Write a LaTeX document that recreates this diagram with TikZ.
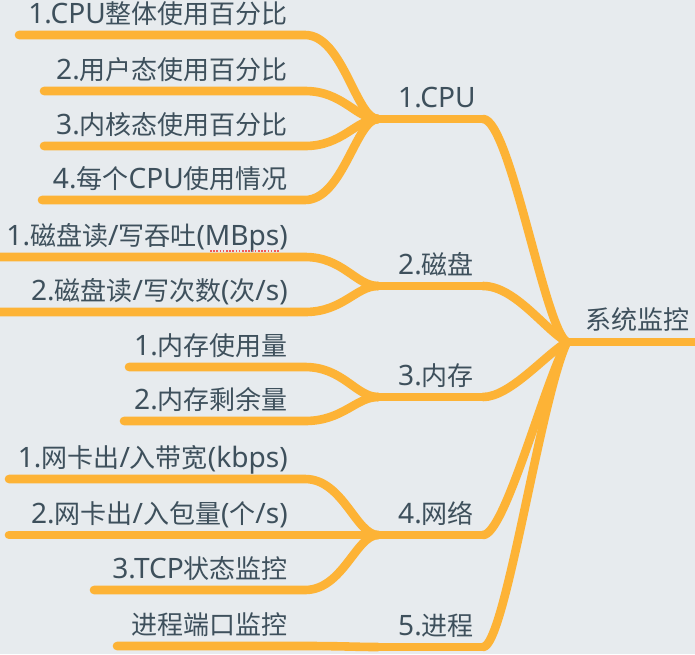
\documentclass[tikz,border=0pt]{standalone}
\usepackage{fontspec}
\setmainfont{Noto Sans CJK SC}
\newfontfamily\latinfont[Scale=1.08]{Noto Sans}
\newcommand{\Lt}[1]{{\latinfont #1}}
\definecolor{bgc}{HTML}{E7EBEE}
\definecolor{lnc}{HTML}{FDB336}
\definecolor{txc}{HTML}{3E505C}
\definecolor{spc}{HTML}{F05A5A}
\tikzset{
  branchline/.style={draw=lnc, line width=8.6pt, line cap=round, line join=round},
  leaftext/.style={anchor=base east, inner sep=0pt, text=txc, font=\fontsize{26}{30}\selectfont},
  midtext/.style={anchor=base west, inner sep=0pt, text=txc, font=\fontsize{26}{30}\selectfont},
}
\begin{document}
\begin{tikzpicture}[x=1pt, y=-1pt]
\fill[bgc] (0,0) rectangle (695,654);
\useasboundingbox (0,0) rectangle (695,654);

% root
\coordinate (rj) at (567,342);
\coordinate (re) at (700,342);
\draw[branchline] (rj) -- (re);
\node[midtext] (root) at (585,329) {系统监控};

% branch junctions and ends
\foreach \n/\y in {1/119, 2/286, 3/397, 4/535, 5/647}{
  \coordinate (bj\n) at (378,\y);
  \coordinate (be\n) at (483,\y);
}
\draw[branchline] (bj1) -- (be1);
\draw[branchline] (bj2) -- (be2);
\draw[branchline] (bj3) -- (be3);
\draw[branchline] (bj4) -- (be4);
\draw[branchline] (bj5) -- (be5);

\draw[branchline] (be1) .. controls (510,119) and (545,330) .. (rj);
\draw[branchline] (be2) .. controls (515,286) and (545,330) .. (rj);
\draw[branchline] (be3) .. controls (510,397) and (545,355) .. (rj);
\draw[branchline] (be4) .. controls (505,535) and (545,380) .. (rj);
\draw[branchline] (be5) .. controls (505,647) and (540,400) .. (rj);

\node[midtext] (b1) at (398,107) {\Lt{1.CPU}};
\node[midtext] (b2) at (398,274) {\Lt{2.}磁盘};
\node[midtext] (b3) at (398,385) {\Lt{3.}内存};
\node[midtext] (b4) at (398,523) {\Lt{4.}网络};
\node[midtext] (b5) at (398,635) {\Lt{5.}进程};

% leaves: name / left x / y / branch
\foreach \n/\x/\y/\b in {a1/19/35/1, a2/44/91/1, a3/44/146/1, a4/42/200/1,
                          d1/-6/257/2, d2/-6/312/2,
                          m1/129/367/3, m2/124/421/3,
                          n1/9/479/4, n2/9/535/4, n3/94/590/4,
                          p1/117/646/5}{
  \coordinate (\n s) at (\x,\y);
  \coordinate (\n e) at (305,\y);
  \draw[branchline] (\n s) -- (\n e) .. controls +(38,0) and +(-22,0) .. (bj\b);
}

\node[leaftext] (ta1) at (288,23) {\Lt{1.CPU}整体使用百分比};
\node[leaftext] (ta2) at (288,79) {\Lt{2.}用户态使用百分比};
\node[leaftext] (ta3) at (288,134) {\Lt{3.}内核态使用百分比};
\node[leaftext] (ta4) at (288,188) {\Lt{4.}每个\Lt{CPU}使用情况};
\node[leaftext] (td1) at (288,245) {\Lt{1.}磁盘读\Lt{/}写吞吐\Lt{(MBps)}};
\node[leaftext] (td2) at (288,300) {\Lt{2.}磁盘读\Lt{/}写次数\Lt{(}次\Lt{/s)}};
\node[leaftext] (tm1) at (288,355) {\Lt{1.}内存使用量};
\node[leaftext] (tm2) at (288,409) {\Lt{2.}内存剩余量};
\node[leaftext] (tn1) at (288,467) {\Lt{1.}网卡出\Lt{/}入带宽\Lt{(kbps)}};
\node[leaftext] (tn2) at (288,523) {\Lt{2.}网卡出\Lt{/}入包量\Lt{(}个\Lt{/s)}};
\node[leaftext] (tn3) at (288,578) {\Lt{3.TCP}状态监控};
\node[leaftext] (tp1) at (288,634) {进程端口监控};

% spell-check underline under MBps
\coordinate (sq1) at (210,251);
\coordinate (sq2) at (279,251);
\draw[spc, line width=1.6pt, dash pattern=on 1.6pt off 1.6pt] (sq1) -- (sq2);
\end{tikzpicture}
\end{document}
